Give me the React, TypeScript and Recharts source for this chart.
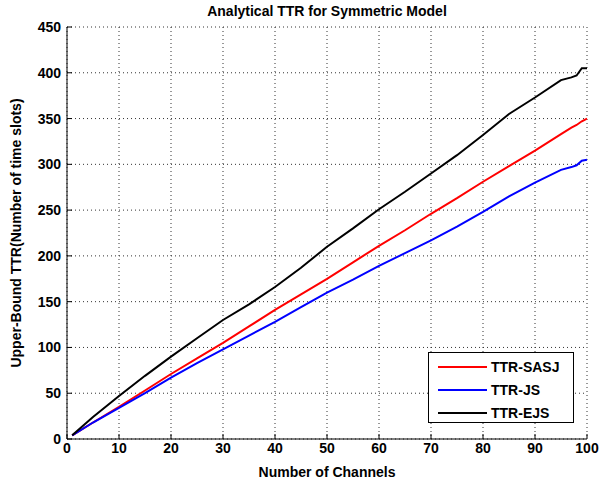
import {
  LineChart,
  Line,
  XAxis,
  YAxis,
  CartesianGrid,
} from 'recharts';

// Number of channels (sampled along the curves)
const channels = [1, 5, 10, 15, 20, 25, 30, 35, 40, 45, 50, 55, 60, 65, 70, 75, 80, 85, 90, 95, 97, 98, 99, 100];

// Upper-bound TTR readings for each scheme
const ttrSasj = [4, 18, 35, 53, 71, 88, 105, 123, 141, 158, 175, 193, 211, 228, 246, 263, 281, 298, 315, 333, 340, 343, 347, 350];
const ttrJs = [4, 18, 34, 50, 67, 83, 98, 113, 128, 144, 160, 174, 189, 203, 217, 232, 248, 265, 280, 294, 297, 299, 304, 305];
const ttrEjs = [4, 24, 47, 69, 90, 110, 130, 147, 166, 187, 210, 230, 251, 270, 290, 310, 332, 355, 373, 392, 395, 397, 405, 405];

const xTicks = [0, 10, 20, 30, 40, 50, 60, 70, 80, 90, 100];
const yTicks = [0, 50, 100, 150, 200, 250, 300, 350, 400, 450];

const seriesInfo = [
  { key: 'sasj', name: 'TTR-SASJ', color: '#ff0000' },
  { key: 'js', name: 'TTR-JS', color: '#0000ff' },
  { key: 'ejs', name: 'TTR-EJS', color: '#000000' },
];

const FONT = '"Liberation Sans", Arial, sans-serif';

// legend drawn as an overlay so it doesn't shrink the plot area
function LegendBox() {
  return (
    <div style={{
      position: 'absolute',
      left: 428,
      top: 352,
      width: 144,
      height: 67,
      border: '1px solid #000',
      background: '#fff',
      fontFamily: FONT,
      fontWeight: 'bold',
      fontSize: 14,
      paddingTop: 2,
      boxSizing: 'content-box',
      zIndex: 2,
    }}>
      {seriesInfo.map((s) => (
        <div key={s.key} style={{ display: 'flex', alignItems: 'center', height: 23 }}>
          <div style={{ width: 49, height: 2, background: s.color, marginLeft: 9, marginRight: 4 }} />
          <span>{s.name}</span>
        </div>
      ))}
    </div>
  );
}

export default function App() {
  const data = channels.map((c, i) => ({
    ch: c,
    sasj: ttrSasj[i],
    js: ttrJs[i],
    ejs: ttrEjs[i],
  }));

  const tickStyle = { fontFamily: FONT, fontWeight: 'bold', fontSize: 14, fill: '#000' };

  return (
    <div style={{ position: 'absolute', left: 0, top: 0, width: 600, height: 486, background: '#fff' }}>
      <div style={{
        position: 'absolute', left: 67, width: 520, top: 3, textAlign: 'center',
        fontFamily: FONT, fontWeight: 'bold', fontSize: 14,
      }}>
        Analytical TTR for Symmetric Model
      </div>
      <LegendBox />
      <LineChart
        width={600}
        height={486}
        data={data}
        margin={{ top: 27, right: 13, left: 27, bottom: 17 }}
      >
        <CartesianGrid
          stroke="#333"
          strokeDasharray="1 3"
          horizontalValues={yTicks}
          verticalValues={xTicks}
        />
        <XAxis
          dataKey="ch"
          type="number"
          domain={[0, 100]}
          ticks={xTicks}
          height={30}
          tick={tickStyle}
          tickSize={-5}
          tickMargin={9}
          stroke="#000"
          interval={0}
          label={{
            value: 'Number of Channels',
            position: 'insideBottom',
            offset: -8,
            style: { fontFamily: FONT, fontWeight: 'bold', fontSize: 14, fill: '#000' },
          }}
        />
        <XAxis xAxisId="top" orientation="top" dataKey="ch" type="number" domain={[0, 100]}
          ticks={xTicks} height={0} tick={false} tickSize={-5} stroke="#000" />
        <YAxis
          type="number"
          domain={[0, 450]}
          ticks={yTicks}
          width={40}
          tick={tickStyle}
          tickSize={-5}
          tickMargin={11}
          stroke="#000"
          interval={0}
          label={{
            value: 'Upper-Bound TTR(Number of time slots)',
            angle: -90,
            position: 'insideLeft',
            offset: -11,
            style: { textAnchor: 'middle', fontFamily: FONT, fontWeight: 'bold', fontSize: 14, fill: '#000' },
          }}
        />
        <YAxis yAxisId="right" orientation="right" type="number" domain={[0, 450]}
          ticks={yTicks} width={0} tick={false} tickSize={-5} stroke="#000" />
        {seriesInfo.map((s) => (
          <Line
            key={s.key}
            dataKey={s.key}
            name={s.name}
            stroke={s.color}
            strokeWidth={2}
            dot={false}
            type="linear"
            isAnimationActive={false}
          />
        ))}
      </LineChart>
    </div>
  );
}
